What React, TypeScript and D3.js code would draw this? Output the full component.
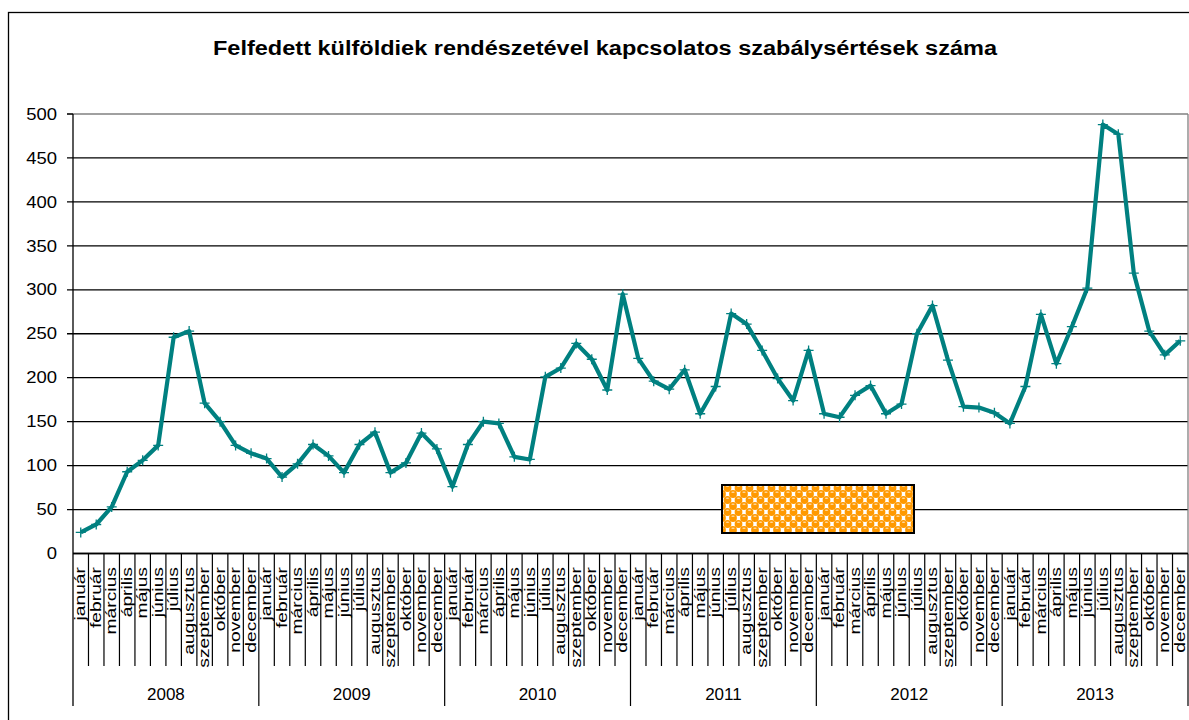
import * as React from 'react'
import * as d3 from 'd3'

const width = 1189
const height = 720
const margin = { top: 114, right: 1, bottom: 166.5, left: 73 }
const teal = '#008080'
const font = '"Liberation Sans", Arial, sans-serif'

const title = 'Felfedett külföldiek rendészetével kapcsolatos szabálysértések száma'
const years = ['2008', '2009', '2010', '2011', '2012', '2013']
const months = [
  'január', 'február', 'március', 'április', 'május', 'június',
  'július', 'augusztus', 'szeptember', 'október', 'november', 'december',
]
const values2008 = [24, 33, 53, 93, 106, 123, 246, 253, 171, 150, 123, 114]
const values2009 = [108, 87, 102, 124, 111, 92, 124, 138, 92, 103, 137, 119]
const values2010 = [76, 124, 150, 148, 110, 107, 201, 211, 239, 221, 186, 295]
const values2011 = [222, 196, 187, 209, 159, 190, 273, 261, 231, 199, 174, 231]
const values2012 = [159, 155, 180, 191, 159, 170, 250, 282, 220, 167, 166, 160]
const values2013 = [148, 190, 272, 216, 258, 302, 488, 477, 319, 253, 226, 242]
const yTicks = [0, 50, 100, 150, 200, 250, 300, 350, 400, 450, 500]

// orange "bubbles" fill of the decorative box
const tileW = 11
const tileH = 12
const blobs = [
  [tileW / 2, tileH / 4],
  [tileW / 2, tileH / 4 + tileH],
  [0, (tileH * 3) / 4],
  [tileW, (tileH * 3) / 4],
  [0, (tileH * 3) / 4 - tileH],
  [tileW, (tileH * 3) / 4 - tileH],
]

const App = () => {
  const series = [values2008, values2009, values2010, values2011, values2012, values2013]
  const data = years.flatMap((y, yi) =>
    months.map((m, mi) => ({ key: `${y}-${mi}`, year: y, month: m, value: series[yi][mi] }))
  )

  const xScale = d3
    .scaleBand()
    .domain(data.map(d => d.key))
    .range([margin.left, width - margin.right])
    .padding(0)
  const yScale = d3
    .scaleLinear()
    .domain([0, 500])
    .range([height - margin.bottom, margin.top])

  const cx = (k: string) => xScale(k)! + xScale.bandwidth() / 2
  const line = d3
    .line<any>()
    .x(d => cx(d.key))
    .y(d => yScale(d.value))

  const x0 = margin.left
  const x1 = width - margin.right
  const y0 = yScale(0)
  const monthLineEnd = 666
  const yearLineEnd = 706

  return (
    <svg
      width={width}
      height={height}
      style={{ position: 'absolute', left: 0, top: 0, background: '#fff' }}
      fontFamily={font}
    >
      <defs>
        <pattern id="dots" width={tileW} height={tileH} patternUnits="userSpaceOnUse" x={722} y={485}>
          <rect width={tileW} height={tileH} fill="#fff" />
          {blobs.map(([px, py], i) => (
            <g key={i}>
              <circle cx={px} cy={py} r={3.9} fill="#ff9900" />
              <ellipse cx={px} cy={py - 1.7} rx={1.7} ry={0.8} fill="#ffd9a0" />
            </g>
          ))}
        </pattern>
      </defs>

      {/* chart border */}
      <rect x={8.5} y={12.5} width={width + 10} height={height + 10} fill="none" stroke="#000" strokeWidth={1.3} />

      <text x={605} y={55} textAnchor="middle" fontSize={20} fontWeight="bold" textLength={784} lengthAdjust="spacingAndGlyphs">
        {title}
      </text>

      {/* grid */}
      {yTicks.map(t => (
        <g key={t}>
          <line
            x1={t === 0 ? x0 : x0 - 6}
            x2={x1}
            y1={yScale(t)}
            y2={yScale(t)}
            stroke={t === 500 ? '#808080' : '#000'}
            strokeWidth={1.3}
          />
          {t === 500 && <line x1={x0 - 6} x2={x0} y1={yScale(t)} y2={yScale(t)} stroke="#000" strokeWidth={1.3} />}
          <g transform={`translate(57, ${yScale(t)}) scale(1.12, 1)`}>
            <text textAnchor="end" dominantBaseline="central" fontSize={16.5}>
              {t}
            </text>
          </g>
        </g>
      ))}
      <line x1={x1} x2={x1} y1={yScale(500)} y2={y0} stroke="#808080" strokeWidth={1.3} />

      {/* pattern box */}
      <rect x={722} y={485} width={192} height={48} fill="url(#dots)" stroke="#000" strokeWidth={2} />

      {/* category axis */}
      <line x1={x0} x2={x0} y1={yScale(500)} y2={yearLineEnd} stroke="#000" strokeWidth={1.3} />
      <line x1={x0} x2={x1} y1={y0} y2={y0} stroke="#000" strokeWidth={1.5} />
      {data.map((d, i) => {
        const bx = xScale(d.key)! + xScale.bandwidth()
        const yearEnd = i % 12 === 11
        return (
          <line
            key={'s' + d.key}
            x1={bx}
            x2={bx}
            y1={y0}
            y2={yearEnd ? yearLineEnd : monthLineEnd}
            stroke="#000"
            strokeWidth={1.2}
          />
        )
      })}
      {data.map(d => (
        <g key={'l' + d.key} transform={`translate(${cx(d.key)}, 567) rotate(-90) scale(1.33, 1)`}>
          <text textAnchor="end" dominantBaseline="central" fontSize={14.5} fill="#000">
            {d.month}
          </text>
        </g>
      ))}
      {years.map(y => {
        const first = xScale(`${y}-0`)!
        const last = xScale(`${y}-11`)! + xScale.bandwidth()
        return (
          <text key={y} x={(first + last) / 2} y={694} textAnchor="middle" dominantBaseline="central" fontSize={17}>
            {y}
          </text>
        )
      })}

      {/* series */}
      <path d={line(data)!} fill="none" stroke={teal} strokeWidth={4.2} strokeLinejoin="round" />
      {data.map(d => {
        const px = cx(d.key)
        const py = yScale(d.value)
        return (
          <path
            key={'m' + d.key}
            d={`M${px - 5},${py}H${px + 5}M${px},${py - 5}V${py + 5}`}
            stroke={teal}
            strokeWidth={1.3}
          />
        )
      })}
    </svg>
  )
}

export default App
